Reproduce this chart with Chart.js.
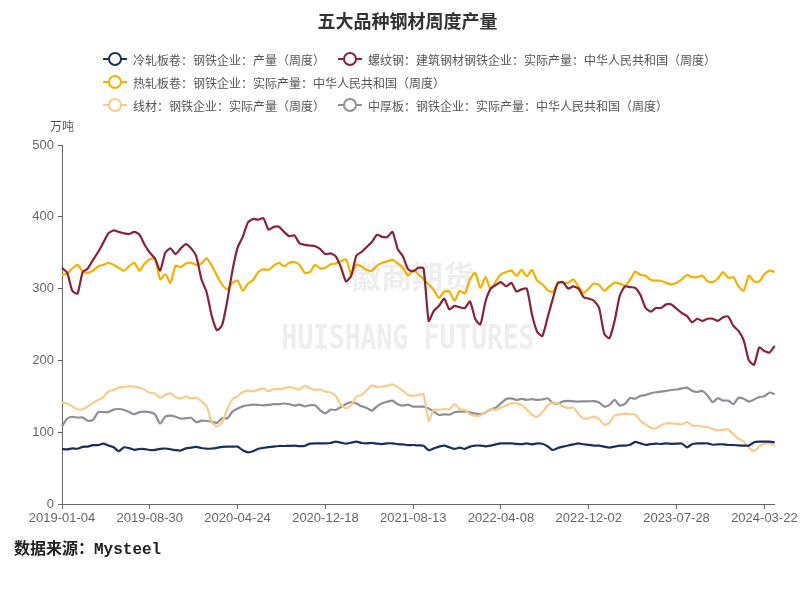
<!DOCTYPE html>
<html><head><meta charset="utf-8">
<script src="https://cdn.jsdelivr.net/npm/chart.js@4.4.1/dist/chart.umd.min.js"></script>
<style>
html,body{margin:0;padding:0;background:#fff;}
#wrap{position:relative;width:800px;height:600px;overflow:hidden;}
#c{position:absolute;left:0;top:0;}
.lg{position:absolute;display:flex;align-items:center;font:12px 'Noto Sans CJK SC',sans-serif;color:#555;white-space:nowrap;height:16px;}
.mk{position:relative;width:24px;height:14px;margin-right:6px;flex:none;}
.mk:before{content:'';position:absolute;left:0;right:0;top:6px;height:2px;background:var(--c);}
.mk:after{content:'';position:absolute;left:5px;top:0;width:10px;height:10px;border:2px solid var(--c);border-radius:50%;background:#fff;}
#unit{position:absolute;left:50px;top:117px;font:12px 'Noto Sans CJK SC',sans-serif;color:#555;}
#src{position:absolute;left:14px;top:535px;font:bold 16px 'Liberation Mono','Noto Sans CJK SC',monospace;color:#222;}
</style></head>
<body>
<div id="wrap">
<canvas id="c" width="800" height="600"></canvas>
<div id="legend"></div>
<div id="unit">万吨</div>
<div id="src">数据来源：Mysteel</div>
</div>
<script>
const TITLE = '五大品种钢材周度产量';
const SERIES_NAMES = [
  '冷轧板卷：钢铁企业：产量（周度）',
  '螺纹钢：建筑钢材钢铁企业：实际产量：中华人民共和国（周度）',
  '热轧板卷：钢铁企业：实际产量：中华人民共和国（周度）',
  '线材：钢铁企业：实际产量（周度）',
  '中厚板：钢铁企业：实际产量：中华人民共和国（周度）'
];
const COLORS = ['#1B2F5E', '#862336', '#F5B000', '#F8CB8C', '#8E8E99'];
const TICK_LABELS = ['2019-01-04','2019-08-30','2020-04-24','2020-12-18','2021-08-13','2022-04-08','2022-12-02','2023-07-28','2024-03-22'];
const Y_TICKS = [0, 100, 200, 300, 400, 500];

// bi-weekly sample dates starting 2019-01-04
const START_DATE = '2019-01-04';
const STEP_DAYS = 14;

const coldRolled = [76.6,76,77.5,77,79.5,80,82,82,84,81.5,79,73.5,79,77.8,75.5,76.6,76.4,75.2,75.5,76.8,
77.3,76.3,75,74.5,77.5,78.5,79.5,78,77,77.3,78.2,79.6,79.9,79.9,79.9,74.8,72,73.5,77,78.2,
79.2,80,80.8,80.8,81,81.2,80.5,81,84,84.5,84.5,84.5,85,86.8,85.5,84,85.5,86.8,85,84.5,
85,84,83.5,84.5,84.5,83.3,83,82,82.2,81.6,81,75,77.5,79.9,81.2,79,76.8,78.4,76.9,79.9,
81.3,81.3,80.3,81.3,83.1,84.5,84.5,84.5,83.7,83.5,84.3,83.1,84.5,84,80.5,75.2,78,79.9,81.5,83,
84.3,83.2,82.3,81.3,81.3,79.9,78.6,80,81.3,81.3,82.5,86.5,84.5,82.3,83.5,84.2,83.6,84.5,83.8,84,
84.3,79,83.3,84.5,84.5,84.5,82.5,83.1,83.1,82.2,82.2,81.6,81.3,81.3,85.9,86.8,86.8,86.8,85.9];

const rebar = [329,322,297,293,323,328,340,351,364,377,381,379,377,376,379,375,361,350,342,325,
350,356,348,356,362,356,345,313,295,262,242,249,283,325,357,372,392,397,396,398,
382,386,386,379,373,374,363,361,360,359,355,348,349,345,330,310,318,346,351,358,
365,375,372,372,379,355,345,327,324,329,328,255,269,276,286,271,276,274,273,282,
258,250,282,300,305,309,303,308,296,299,300,264,240,234,259,285,308,309,300,303,
300,288,286,283,273,237,231,255,290,303,302,301,291,273,268,273,273,278,278,272,
266,262,253,258,255,258,258,255,260,261,248,241,228,200,194,218,213,211,220];

const hotRolled = [319,321,328,333,324,322,325,331,333,336,333,329,325,331,336,325,335,341,342,313,
320,308,332,330,335,336,333,335,342,332,318,306,299,308,311,297,307,312,323,327,
326,332,336,331,336,337,333,322,323,333,328,329,334,335,338,341,320,333,331,326,
325,332,336,338,340,335,329,318,326,320,313,306,298,287,296,296,283,297,293,313,
322,301,316,299,310,320,323,325,318,326,317,326,311,306,298,295,307,308,308,313,
303,294,300,307,305,297,303,308,307,304,312,324,319,318,312,311,311,308,306,308,
313,319,316,316,318,310,309,314,323,315,316,303,297,318,310,310,320,325,323];

const wireRod = [141.6,140,136,132,132,136,141,145,149,157,159,162,163,164,163.5,162,159,155,154,148,
152,154,149,147,150,147,148,143,136,114,108,114,132,146,150,156,158,157,159,161,
157,160,160,161,163,161,159.3,165,161,159,159.7,156.5,155.3,150.5,138.4,133.3,137.5,149.8,151.6,158.5,
164.8,163,163.4,164.8,166.6,162.5,158,151.8,150.5,152,152.8,116,131,131,132.3,131.7,139,132,131,125,
123.1,123.3,128.5,132.3,131,134.3,137.2,140.2,140.2,138,131.5,124.3,121.5,127.7,137,141.6,140,136.3,133.5,134.2,
125.5,119,119.5,121.7,118.2,110.5,113,123.3,124.7,126,125,124.7,116,110.8,106.3,105.4,109.8,112.4,112.4,111.6,
110.7,114.2,109.1,109,107.8,107,104.3,102.5,103.3,103.9,97,90.6,87,78.5,73.5,80.2,84.3,84.2,81.3];

const plate = [108,119,121.5,120.3,120.5,116,117,128,128,128,131.5,132.3,131,128,125,128,128.6,128,125,112,
121.7,123,121.5,119,119.5,120,114,116,115.6,114.5,113,119.4,119.4,128.6,133,136,137.5,138.5,138,137.5,
138,139,139,140,139,137,138.5,136,137.5,137.5,130.5,126.3,131.5,131,135,139.2,142,140,136,133.8,
130,136,140.2,142.6,144,138.8,137,138.5,135.6,135.6,135.6,133,128.6,124,124.9,124.5,127.7,128.6,128.6,127.5,
126,124.9,127.5,132,134.2,140.2,146.3,147,145,146.5,145,146,144.9,145.5,147.2,141.2,139.5,143,143.5,143,
142.6,143,143,143.2,141.5,135.7,138,145,137,139.5,147.5,146.6,150.6,151.8,154.2,155.6,156.5,157.5,158.8,159.5,
161,162.1,157.6,156,157.4,151,141.8,147.5,144,144,139,148,146.5,142.6,145.5,149,150,155.3,152.8];

const SERIES = [coldRolled, rebar, hotRolled, wireRod, plate];

// category labels
const DATES = [];
(function(){
  const d0 = new Date(START_DATE + 'T00:00:00Z');
  for (let i = 0; i < rebar.length; i++) {
    const d = new Date(d0.getTime() + i * STEP_DAYS * 86400000);
    DATES.push(d.toISOString().slice(0, 10));
  }
})();

// HTML legend
const LEGEND_POS = [[103, 51], [338, 51], [103, 74], [103, 97], [338, 97]];
const lg = document.getElementById('legend');
SERIES_NAMES.forEach((n, i) => {
  const el = document.createElement('div');
  el.className = 'lg';
  el.style.left = LEGEND_POS[i][0] + 'px';
  el.style.top = LEGEND_POS[i][1] + 'px';
  el.innerHTML = '<span class="mk" style="--c:' + COLORS[i] + '"></span><span>' + n + '</span>';
  lg.appendChild(el);
});

const watermark = {
  id: 'watermark',
  beforeDatasetsDraw(chart) {
    const ctx = chart.ctx;
    ctx.save();
    ctx.fillStyle = '#eeeeee';
    ctx.textAlign = 'center';
    ctx.textBaseline = 'middle';
    ctx.font = "bold 31px 'Noto Sans CJK SC'";
    ctx.fillText('徽商期货', 412, 276);
    ctx.translate(408, 340);
    ctx.scale(0.82, 1.05);
    ctx.font = "bold 32px 'DejaVu Sans Mono'";
    ctx.fillText('HUISHANG FUTURES', 0, 0);
    ctx.restore();
  }
};

const tickFont = {family: "'Liberation Sans', Arial, sans-serif", size: 13};

new Chart(document.getElementById('c'), {
  type: 'line',
  data: {
    labels: DATES,
    datasets: SERIES.map((s, i) => ({
      label: SERIES_NAMES[i],
      data: s,
      borderColor: COLORS[i],
      backgroundColor: COLORS[i],
      borderWidth: 2.2,
      pointRadius: 0,
      tension: 0.2,
      fill: false
    }))
  },
  options: {
    responsive: false,
    animation: false,
    layout: {padding: {left: 15, right: 0, top: 0, bottom: 0}},
    plugins: {
      legend: {display: false},
      tooltip: {enabled: false},
      title: {
        display: true, text: TITLE, color: '#333',
        font: {family: "'Noto Sans CJK SC'", size: 18, weight: 'bold'},
        padding: {top: 10, bottom: 113.4}
      }
    },
    scales: {
      x: {
        type: 'category', offset: false,
        grid: {display: true, drawOnChartArea: false, drawTicks: true, tickLength: 5, color: '#666'},
        border: {display: true, color: '#666'},
        ticks: {
          autoSkip: false, maxRotation: 0, minRotation: 0, padding: 2, color: '#666', font: tickFont,
          callback: (v, i) => TICK_LABELS.includes(DATES[i]) ? DATES[i] : null
        },
        afterFit(s) { s.height = 96; }
      },
      y: {
        min: 0, max: 500,
        afterBuildTicks(s) { s.ticks = Y_TICKS.map(v => ({value: v})); },
        grid: {display: true, drawOnChartArea: false, drawTicks: true, tickLength: 4, color: '#666'},
        border: {display: true, color: '#666'},
        ticks: {color: '#666', font: tickFont, padding: 4},
        afterFit(s) { s.width = 47; }
      },
      y2: {
        position: 'right', min: 0, max: 1,
        grid: {display: false}, border: {display: false}, ticks: {display: false},
        afterFit(s) { s.width = 25; }
      }
    }
  },
  plugins: [watermark]
});
</script>
</body></html>
